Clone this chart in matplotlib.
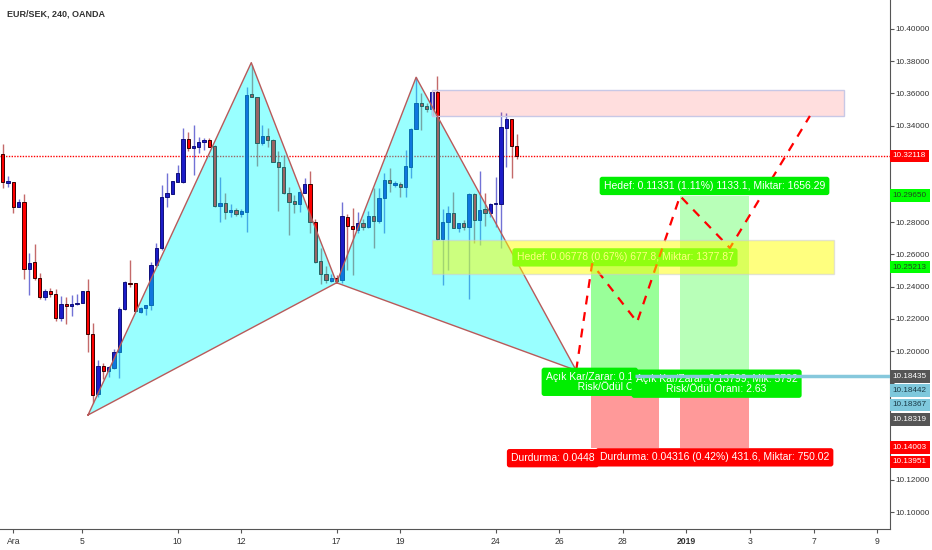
import matplotlib
matplotlib.use("Agg")
import matplotlib.pyplot as plt
from matplotlib import font_manager
from matplotlib.patches import Rectangle, Polygon

# --- EUR/SEK 240 candles (bar index = position) ---
opens = [10.3224, 10.3044, 10.3050, 10.2894, 10.2926, 10.2510, 10.2553, 10.2454, 10.2336, 10.2373,
         10.2354, 10.2205, 10.2292, 10.2280, 10.2292, 10.2298, 10.2373, 10.2106, 10.1733, 10.1907,
         10.1876, 10.1895, 10.1994, 10.2261, 10.2423, 10.2423, 10.2243, 10.2266, 10.2286, 10.2534,
         10.2638, 10.2955, 10.2975, 10.3052, 10.3052, 10.3315, 10.3261, 10.3269, 10.3298, 10.3311,
         10.3273, 10.2901, 10.2918, 10.2865, 10.2876, 10.2849, 10.2865, 10.3594, 10.3580, 10.3294,
         10.3335, 10.3311, 10.3176, 10.3141, 10.2980, 10.2930, 10.2913, 10.2983, 10.3037, 10.2803,
         10.2561, 10.2477, 10.2437, 10.2452, 10.2441, 10.2834, 10.2777, 10.2752, 10.2793, 10.2772,
         10.2839, 10.2809, 10.2949, 10.3062, 10.3031, 10.3037, 10.3017, 10.3145, 10.3377, 10.3542,
         10.3522, 10.3501, 10.3611, 10.2694, 10.2800, 10.2855, 10.2766, 10.2793, 10.2772, 10.2973,
         10.2814, 10.2880, 10.2859, 10.2911, 10.2911, 10.3387, 10.3441, 10.3275]
highs = [10.3286, 10.3087, 10.3050, 10.2944, 10.2975, 10.2609, 10.2665, 10.2485, 10.2385, 10.2392,
         10.2385, 10.2342, 10.2336, 10.2348, 10.2354, 10.2373, 10.2447, 10.2174, 10.1944, 10.1926,
         10.1907, 10.2013, 10.2274, 10.2435, 10.2565, 10.2423, 10.2276, 10.2286, 10.2555, 10.2673,
         10.3031, 10.3106, 10.3058, 10.3155, 10.3383, 10.3362, 10.3404, 10.3327, 10.3325, 10.3323,
         10.3280, 10.3083, 10.2980, 10.2913, 10.2888, 10.2880, 10.3642, 10.3776, 10.3580, 10.3404,
         10.3383, 10.3315, 10.3244, 10.3217, 10.3021, 10.2969, 10.2996, 10.3073, 10.3120, 10.2818,
         10.2638, 10.2528, 10.2478, 10.2472, 10.2927, 10.2851, 10.2886, 10.2865, 10.2820, 10.2872,
         10.3011, 10.3011, 10.3108, 10.3135, 10.3056, 10.3052, 10.3249, 10.3383, 10.3704, 10.3601,
         10.3542, 10.3611, 10.3708, 10.2880, 10.2901, 10.2990, 10.2797, 10.2814, 10.2980, 10.2980,
         10.3120, 10.2983, 10.2918, 10.3079, 10.3486, 10.3476, 10.3441, 10.3348]
lows = [10.3013, 10.3019, 10.2857, 10.2894, 10.2447, 10.2348, 10.2441, 10.2323, 10.2317, 10.2336,
        10.2187, 10.2187, 10.2168, 10.2218, 10.2286, 10.2298, 10.1994, 10.1677, 10.1715, 10.1826,
        10.1839, 10.1889, 10.1833, 10.2255, 10.2398, 10.2243, 10.2235, 10.2224, 10.2255, 10.2524,
        10.2628, 10.2896, 10.2975, 10.3052, 10.3045, 10.3244, 10.3093, 10.3228, 10.3249, 10.3267,
        10.2894, 10.2803, 10.2818, 10.2834, 10.2840, 10.2834, 10.2741, 10.3578, 10.3149, 10.3280,
        10.3265, 10.3176, 10.2872, 10.2975, 10.2721, 10.2855, 10.2865, 10.2980, 10.2731, 10.2545,
        10.2416, 10.2424, 10.2431, 10.2424, 10.2424, 10.2503, 10.2472, 10.2731, 10.2752, 10.2762,
        10.2638, 10.2793, 10.2735, 10.2990, 10.3019, 10.2959, 10.2959, 10.3073, 10.3377, 10.3373,
        10.3486, 10.3466, 10.2690, 10.2410, 10.2503, 10.2762, 10.2741, 10.2752, 10.2321, 10.2669,
        10.2659, 10.2777, 10.2834, 10.2772, 10.2638, 10.3145, 10.3073, 10.3193]
closes = [10.3050, 10.3056, 10.2894, 10.2926, 10.2510, 10.2547, 10.2454, 10.2336, 10.2373, 10.2354,
          10.2205, 10.2292, 10.2280, 10.2292, 10.2298, 10.2373, 10.2106, 10.1727, 10.1907, 10.1876,
          10.1901, 10.1994, 10.2261, 10.2429, 10.2416, 10.2249, 10.2268, 10.2286, 10.2534, 10.2638,
          10.2959, 10.2980, 10.3058, 10.3104, 10.3315, 10.3259, 10.3273, 10.3298, 10.3311, 10.3269,
          10.2901, 10.2921, 10.2865, 10.2876, 10.2849, 10.2872, 10.3590, 10.3580, 10.3294, 10.3335,
          10.3311, 10.3176, 10.3141, 10.2980, 10.2927, 10.2913, 10.2990, 10.3037, 10.2803, 10.2555,
          10.2477, 10.2441, 10.2452, 10.2437, 10.2839, 10.2777, 10.2756, 10.2793, 10.2772, 10.2839,
          10.2809, 10.2949, 10.3062, 10.3042, 10.3042, 10.3017, 10.3149, 10.3377, 10.3542, 10.3522,
          10.3501, 10.3611, 10.2694, 10.2803, 10.2855, 10.2766, 10.2793, 10.2772, 10.2973, 10.2814,
          10.2876, 10.2859, 10.2913, 10.2918, 10.3389, 10.3441, 10.3275, 10.32118]

# XABCD pivots (bar, price)
pattern_x = [16.1, 46.9, 63.0, 78.0, 108.2]
pattern_y = [10.1603, 10.3791, 10.2424, 10.3700, 10.1880]

# projected path after D
path_x = [108.2, 111.2, 119.7, 127.8, 137.2, 152.3]
path_y = [10.1880, 10.2541, 10.2180, 10.2963, 10.2640, 10.3460]

# two long positions
pos_start = [111.0, 127.8]
pos_end = [123.8, 140.8]
pos_entry = [10.18435, 10.18319]
pos_target = [10.25213, 10.29650]
pos_stop = [10.13951, 10.14003]
target_text = ["Hedef: 0.06778 (0.67%) 677.8, Miktar: 1377.87",
               "Hedef: 0.11331 (1.11%) 1133.1, Miktar: 1656.29"]
# the first position's lower labels are mostly hidden under the second one
pnl_text = ["Açık Kar/Zarar: 0.1\n           Risk/Ödül O",
            "Açık Kar/Zarar: 0.13799, Mik: 5792\nRisk/Ödül Oranı: 2.63"]
stop_text = ["Durdurma: 0.0448",
             "Durdurma: 0.04316 (0.42%) 431.6, Miktar: 750.02"]

# rectangles: x0, x1, low, high
yellow_zone = [81.0, 156.9, 10.2478, 10.2690]
pink_zone = [81.0, 158.7, 10.3462, 10.3621]
ray_start = 119.3
ray_price = 10.18442
last_price = 10.32118

day_ticks = [2, 15, 33, 45, 63, 75, 93, 105, 117, 129, 141, 153, 165]
day_labels = ["Ara", "5", "10", "12", "17", "19", "24", "26", "28", "2019", "3", "7", "9"]

# price grid on the right scale; the ones hidden under tags are left blank
price_ticks = [10.10, 10.12, 10.14, 10.16, 10.18, 10.20, 10.22, 10.24, 10.26, 10.28,
               10.30, 10.32, 10.34, 10.36, 10.38, 10.40]
hidden_ticks = [10.14, 10.16, 10.18, 10.30, 10.32]

scale_values = [10.32118, 10.29650, 10.25213, 10.18435, 10.18442, 10.18367, 10.18319, 10.14003, 10.13951]
scale_bg = ["#ff0000", "#00ff00", "#00ff00", "#555555", "#7ec8dc", "#7ec8dc", "#555555", "#ff0000", "#ff0000"]
scale_fg = ["white", "#1e4a1e", "#1e4a1e", "white", "#1c3c48", "#1c3c48", "white", "white", "white"]

RED = "#ff0000"
BLUE = "#1c1cc8"
installed = {f.name for f in font_manager.fontManager.ttflist}
has_narrow = "Liberation Sans Narrow" in installed
label_font = ["Liberation Sans", "DejaVu Sans"]
axis_font = ["Liberation Sans Narrow"] if has_narrow else ["Liberation Sans"]
axis_size = 7.0 if has_narrow else 5.9

fig = plt.figure(figsize=(9.32, 5.5), dpi=100)
ax = fig.add_axes([0, 21 / 550, 890 / 932, 529 / 550])
ax.set_xlim(-0.51, 167.41)
ax.set_ylim(10.0895, 10.418)

# candles
for i in range(len(opens)):
    o, h, l, c = opens[i], highs[i], lows[i], closes[i]
    up = c >= o
    body = BLUE if up else RED
    wick = "#7272d6" if up else "#c46a6a"
    edge = "#10107a" if up else "#3a0000"
    ax.vlines(i, l, h, color=wick, lw=1, zorder=2)
    ax.bar(i, max(abs(c - o), 0.0003), bottom=min(o, c), width=0.62,
           color=body, edgecolor=edge, linewidth=0.7, zorder=3)

# last price dotted line
ax.axhline(last_price, color=RED, lw=1, ls=(0, (1, 1)), zorder=2.5)

# harmonic pattern triangles
edge_col = "#b85a5a"
for tri in ([0, 1, 2], [2, 3, 4]):
    pts = [(pattern_x[k], pattern_y[k]) for k in tri]
    ax.add_patch(Polygon(pts, closed=True, facecolor="#00ffff", alpha=0.4,
                         edgecolor="none", zorder=4))
    xs = [p[0] for p in pts] + [pts[0][0]]
    ys = [p[1] for p in pts] + [pts[0][1]]
    ax.plot(xs, ys, color=edge_col, lw=1, zorder=5)

# pink resistance box
ax.add_patch(Rectangle((pink_zone[0], pink_zone[2]), pink_zone[1] - pink_zone[0],
                       pink_zone[3] - pink_zone[2], facecolor="#ff0000", alpha=0.13,
                       edgecolor="none", zorder=4))
ax.add_patch(Rectangle((pink_zone[0], pink_zone[2]), pink_zone[1] - pink_zone[0],
                       pink_zone[3] - pink_zone[2], facecolor="none",
                       edgecolor="#c8c8e6", lw=1, zorder=4))

# long position zones
green_alpha = [0.4, 0.28]
for k in range(2):
    w = pos_end[k] - pos_start[k]
    ax.add_patch(Rectangle((pos_start[k], pos_entry[k]), w, pos_target[k] - pos_entry[k],
                           facecolor="#00ff00", alpha=green_alpha[k], edgecolor="none", zorder=3))
    ax.add_patch(Rectangle((pos_start[k], pos_stop[k]), w, pos_entry[k] - pos_stop[k],
                           facecolor="#ff0000", alpha=0.4, edgecolor="none", zorder=3))

box = dict(boxstyle="round,pad=0.4,rounding_size=0.25", ec="none")

# first target label sits under the yellow box
mid0 = (pos_start[0] + pos_end[0]) / 2
ax.annotate(target_text[0], (mid0, pos_target[0]), xytext=(0, 7), textcoords="offset points",
            ha="center", va="center", fontsize=7.5, color="white", family=label_font, zorder=6,
            bbox=dict(box, fc="#22ff22"))

# projected dashed path
ax.plot(path_x, path_y, color=RED, lw=1.6, ls=(0, (4, 3.5)), zorder=6.5)

# yellow support box
ax.add_patch(Rectangle((yellow_zone[0], yellow_zone[2]), yellow_zone[1] - yellow_zone[0],
                       yellow_zone[3] - yellow_zone[2], facecolor="#ffff00", alpha=0.5,
                       edgecolor="#c8c8dc", lw=1, zorder=7))

mid1 = (pos_start[1] + pos_end[1]) / 2
ax.annotate(target_text[1], (mid1, pos_target[1]), xytext=(0, 7), textcoords="offset points",
            ha="center", va="center", fontsize=7.5, color="white", family=label_font, zorder=8,
            bbox=dict(box, fc="#00ee00"))

# open P/L and stop labels: first position (left-aligned, clipped by the second)
ax.annotate(pnl_text[0], (mid0, pos_entry[0]), xytext=(-57, -4), textcoords="offset points",
            ha="left", va="center", multialignment="left", fontsize=7.5, color="white",
            family=label_font, linespacing=1.0, zorder=9, bbox=dict(box, fc="#00ee00"))
ax.annotate(stop_text[0], (mid0, pos_stop[0]), xytext=(-82, -7), textcoords="offset points",
            ha="left", va="center", fontsize=7.5, color="white", family=label_font,
            zorder=9, bbox=dict(box, fc="#ff0000"))
ax.annotate(pnl_text[1], (mid1, pos_entry[1]), xytext=(1.5, -4), textcoords="offset points",
            ha="center", va="center", fontsize=7.5, color="white", family=label_font,
            linespacing=1.0, zorder=10, bbox=dict(box, fc="#00ee00"))
ax.annotate(stop_text[1], (mid1, pos_stop[1]), xytext=(0, -7), textcoords="offset points",
            ha="center", va="center", fontsize=7.5, color="white", family=label_font,
            zorder=10, bbox=dict(box, fc="#ff0000"))

# horizontal ray at entry level
ax.plot([ray_start, 167.41], [ray_price, ray_price], color="#86c8dc", lw=2.5, zorder=11,
        solid_capstyle="butt")

# axes styling
for s in ("left", "top"):
    ax.spines[s].set_visible(False)
for s in ("right", "bottom"):
    ax.spines[s].set_color("#555555")
ax.yaxis.tick_right()
ax.set_yticks(price_ticks)
ax.set_yticklabels(["" if any(abs(v - h) < 1e-9 for h in hidden_ticks) else f"{v:.5f}"
                    for v in price_ticks],
                   fontsize=axis_size, color="#333333", family=axis_font)
ax.tick_params(axis="y", length=3, color="#555555", pad=1)
ax.set_xticks(day_ticks)
ax.set_xticklabels(day_labels, fontsize=axis_size + 0.3, color="#333333", family=axis_font)
for t in ax.get_xticklabels():
    if t.get_text() == "2019":
        t.set_fontweight("bold")
ax.tick_params(axis="x", length=3, color="#555555", pad=3)

# right scale price tags (stacked when close together)
gap = 0.0089
prev = None
for v, bg, fg in zip(scale_values, scale_bg, scale_fg):
    y = v if prev is None or prev - v >= gap else prev - gap
    prev = y
    ax.annotate(f"{v:.5f}", (1.0, y), xycoords=("axes fraction", "data"), xytext=(2, 0),
                textcoords="offset points", ha="left", va="center", fontsize=axis_size,
                color=fg, family=axis_font, annotation_clip=False, zorder=12,
                bbox=dict(boxstyle="square,pad=0.35", fc=bg, ec="none"))

fig.text(7 / 932, 1 - 14 / 550, "EUR/SEK, 240, OANDA", fontsize=6.5, color="#333333",
         fontweight="bold", va="center", ha="left", family=label_font)

fig.savefig("out.png", dpi=100)
